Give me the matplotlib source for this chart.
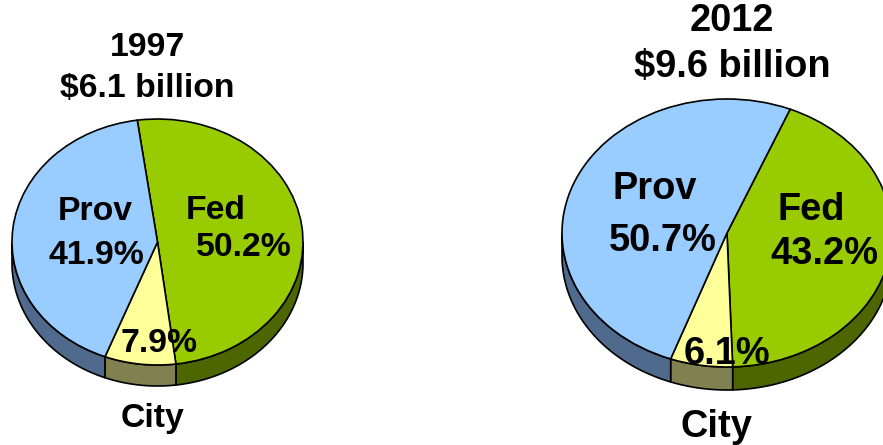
import matplotlib
matplotlib.use('Agg')
import matplotlib.pyplot as plt
import numpy as np

W, H = 883, 445

slices = ['Fed', 'City', 'Prov']
values_1997 = [50.2, 7.9, 41.9]
values_2012 = [43.2, 6.1, 50.7]

top_colors = ['#99CC00', '#FFFF99', '#99CCFF']
side_colors = ['#4D6600', '#808050', '#4F6A8C']

plt.rcParams['font.family'] = ['Liberation Sans', 'DejaVu Sans']
plt.rcParams['font.weight'] = 'bold'


def draw_pie(fig, values, cx, cy, rx, ry, depth, start):
    # axes in pixel terms, data radius is 1
    d = depth / ry
    ax = fig.add_axes([(cx - rx) / W, 1 - (cy + ry + depth) / H, 2 * rx / W, (2 * ry + depth) / H])
    angle = start
    for val, col in zip(values, side_colors):
        a0, a1 = angle, angle - val * 3.6
        angle = a1
        # only the front half of the wall shows
        t0, t1 = max(a1, -180), min(a0, 0)
        if t1 <= t0:
            continue
        t = np.radians(np.linspace(t0, t1, 60))
        xs = np.r_[np.cos(t), np.cos(t[::-1])]
        ys = np.r_[np.sin(t), np.sin(t[::-1]) - d]
        ax.fill(xs, ys, facecolor=col, edgecolor='black', linewidth=1.2, clip_on=False)
    ax.pie(values, startangle=start, counterclock=False, colors=top_colors, radius=1,
           wedgeprops={'edgecolor': 'black', 'linewidth': 1.2, 'clip_on': False})
    ax.set_aspect('auto')
    ax.set_xlim(-1, 1)
    ax.set_ylim(-1 - d, 1)
    ax.axis('off')
    return ax


def label(fig, x, y, s, size):
    fig.text(x / W, 1 - y / H, s, fontsize=size, fontweight='bold', ha='center', va='center',
             color='black', parse_math=False, zorder=10)


fig = plt.figure(figsize=(W / 100, H / 100), dpi=100)

draw_pie(fig, values_1997, 157.5, 242, 145.5, 123, 21, 98)
draw_pie(fig, values_2012, 727, 233, 165, 134, 23, 67.5)

label(fig, 147, 47, '1997', 24.3)
label(fig, 147, 89, '$6.1 billion', 24.3)
label(fig, 95, 212, 'Prov', 24.3)
label(fig, 96, 255, '%.1f%%' % values_1997[2], 24.3)
label(fig, 216, 210, 'Fed', 24.3)
label(fig, 244, 248, '%.1f%%' % values_1997[0], 24.3)
label(fig, 159, 344, '%.1f%%' % values_1997[1], 24.3)
label(fig, 152, 418, 'City', 24.3)

label(fig, 732, 21, '2012', 27.4)
label(fig, 732, 67, '$9.6 billion', 27.4)
label(fig, 655, 189, 'Prov', 27.4)
label(fig, 663, 241, '%.1f%%' % values_2012[2], 27.4)
label(fig, 811, 210, 'Fed', 27.4)
label(fig, 824, 254, '%.1f%%' % values_2012[0], 27.4)
label(fig, 727, 354, '%.1f%%' % values_2012[1], 27.4)
label(fig, 716, 427, 'City', 27.4)

fig.savefig('out.png', dpi=100)
